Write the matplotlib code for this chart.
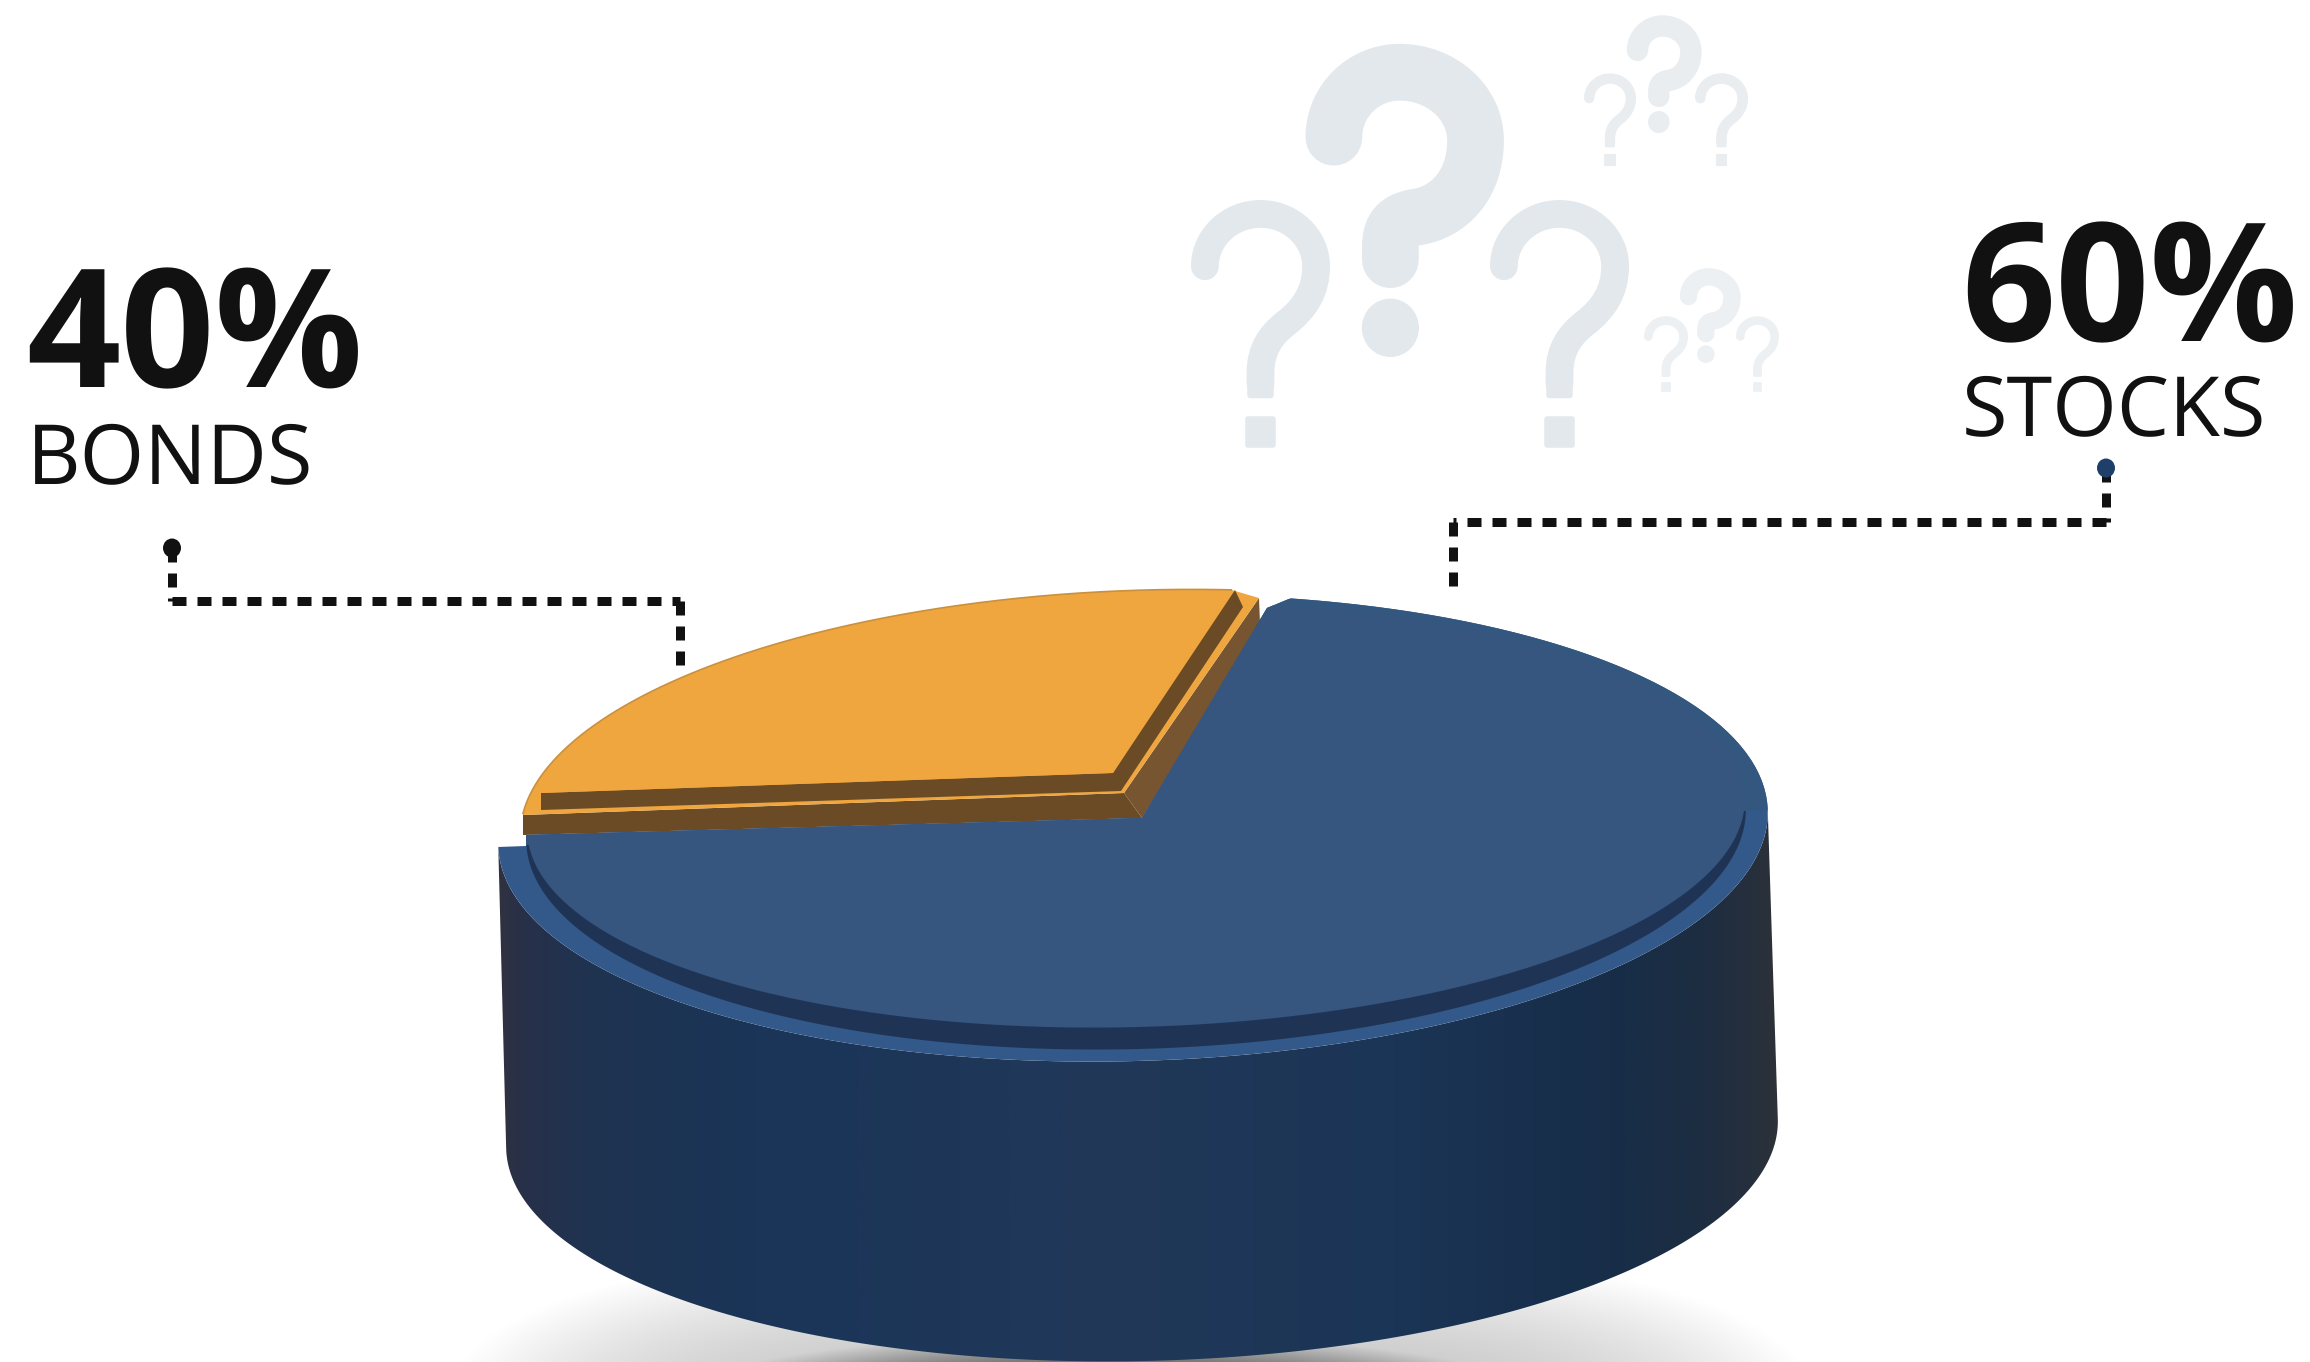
# Stocks / bonds allocation drawn as a tilted 3D puck with callouts.
# The slice is an illustration and is not drawn to angular scale with the shares.

import numpy as np
import matplotlib
matplotlib.use('Agg')
import matplotlib.pyplot as plt
from matplotlib.colors import LinearSegmentedColormap
from matplotlib.path import Path
from matplotlib.patches import PathPatch, Polygon, Rectangle, Ellipse

plt.rcParams['text.hinting'] = 'no_hinting'
plt.rcParams['text.hinting_factor'] = 1

shares = [40, 60]
names = ['BONDS', 'STOCKS']

W, H = 2310, 1362
TILT = -1.6

ORANGE = '#efa63f'
BROWN = '#6b4b25'
BROWN_LIGHT = '#765530'
TOP_BLUE = '#36557f'
LIP_BLUE = '#32598a'
GROOVE = '#1f3454'
INK = '#111111'


def ell(cx, cy, a, b, t_from, t_to, rot=TILT, n=200):
    # points on a rotated ellipse, y pointing down
    t = np.radians(np.linspace(t_from, t_to, n))
    r = np.radians(rot)
    u = a * np.cos(t)
    v = -b * np.sin(t)
    return np.column_stack([cx + u * np.cos(r) - v * np.sin(r),
                            cy + u * np.sin(r) + v * np.cos(r)])


def poly(ax, pts, color, z, clip=None):
    p = Polygon(pts, closed=True, facecolor=color, edgecolor='none', zorder=z)
    ax.add_patch(p)
    if clip is not None:
        p.set_clip_path(clip)
    return p


def question(ax, x0, y0, w, h, color, heavy=False):
    # question mark built from a stroked hook and a separate dot
    sx = lambda u: x0 + u * w
    sy = lambda v: y0 + v * h
    if heavy:
        knots = [(.14, .30), (.14, .186), (.288, .093), (.47, .093), (.68, .093), (.852, .19), (.852, .31),
                 (.852, .45), (.72, .54), (.55, .555), (.46, .565), (.424, .59), (.424, .65), (.424, .69)]
        stroke = 0.285 * w
    else:
        knots = [(.1, .27), (.1, .155), (.28, .06), (.5, .06), (.72, .06), (.9, .155), (.9, .27),
                 (.9, .37), (.82, .44), (.68, .50), (.58, .545), (.5, .60), (.5, .70), (.5, .74)]
        stroke = 0.2 * w
    codes = [Path.MOVETO] + [Path.CURVE4] * 12 + [Path.LINETO]
    verts = [(sx(u), sy(v)) for u, v in knots]
    ax.add_patch(PathPatch(Path(verts, codes), facecolor='none', edgecolor=color,
                           lw=stroke * 0.72, capstyle='round', joinstyle='round', zorder=2))
    if heavy:
        ax.add_patch(Ellipse((sx(.424), sy(.907)), .287 * w, .186 * h, facecolor=color, edgecolor='none', zorder=2))
    else:
        pad = 0.02 * w
        # squared-off stem end and block dot
        stem = Rectangle((sx(.405) + pad, sy(.72)), .19 * w - 2 * pad, .08 * h - pad,
                         facecolor=color, edgecolor=color, lw=2 * pad * 0.72, joinstyle='round', zorder=2)
        stem.set_snap(False)
        ax.add_patch(stem)
        ax.add_patch(Rectangle((sx(.39) + pad, sy(.873) + pad), .22 * w - 2 * pad, .127 * h - 2 * pad,
                               facecolor=color, edgecolor=color, lw=2 * pad * 0.72, joinstyle='round', zorder=2))


def connector(ax, legs, dot, dot_color):
    for (x1, y1), (x2, y2) in legs:
        ax.plot([x1, x2], [y1, y2], color=INK, lw=9 * 0.72, dashes=(14 / 9, 11 / 9),
                dash_capstyle='butt', zorder=3)
    ax.add_patch(Ellipse(dot, 18, 19, facecolor=dot_color, edgecolor='none', zorder=4))


fig = plt.figure(figsize=(W / 100, H / 100), dpi=100, facecolor='white')
ax = fig.add_axes([0, 0, 1, 1])
ax.axis('off')

# soft floor shadow
Y, X = np.mgrid[1150:H, 400:1900]
wide = np.clip(1 - np.abs((X - 1130) / 690) ** 3.5 - ((Y - 1405) / 155) ** 2, 0, 1)
tight = np.clip(1 - ((X - 1108) / 420) ** 2 - ((Y - 1395) / 62) ** 2, 0, 1)
alpha = np.clip(0.23 * wide ** 1.1 + 0.5 * tight ** 1.1, 0, 1)
shadow = np.zeros(X.shape + (4,))
shadow[..., 3] = alpha
ax.imshow(shadow, extent=(400, 1900, H, 1150), aspect='auto', zorder=1, interpolation='bilinear')

# side wall with a horizontal shading band
lip_front = ell(1133, 828, 635, 233, 180, 360)
base_front = ell(1142, 1134, 636, 227, 360, 180, rot=-1.3)
wall = poly(ax, np.vstack([lip_front, base_front]), 'none', 5)
wall_map = LinearSegmentedColormap.from_list('wall', [
    (0.00, '#2f3240'), (0.02, '#27304a'), (0.07, '#1f3350'), (0.20, '#1a3558'), (0.48, '#213858'),
    (0.70, '#1b3556'), (0.87, '#172d48'), (0.94, '#1d2d42'), (0.98, '#262f3d'), (1.00, '#2e3238')])
grad = np.linspace(0, 1, 512).reshape(1, -1)
img = ax.imshow(grad, extent=(498, 1780, H, 780), aspect='auto', cmap=wall_map, zorder=5)
img.set_clip_path(wall)

# orange slice, two stacked layers
arc = ell(1150, 820, 630, 230, 174, 82)
poly(ax, [(523, 815), (523, 835), (1142, 818), (1124, 793)], BROWN, 6)
poly(ax, [(1124, 793), (1142, 818), (1260, 623), (1259, 598)], BROWN_LIGHT, 6)
poly(ax, np.vstack([arc, [(1259, 598), (1124, 793), (523, 815)]]), ORANGE, 7)
poly(ax, [(541, 793), (541, 810), (1121, 791), (1243, 607), (1235, 590), (1113, 773)], BROWN, 8)
poly(ax, np.vstack([arc, [(1113, 773), (541, 793), (523, 815)]]), ORANGE, 9)
ax.plot(arc[:, 0], arc[:, 1], color='#c9913f', lw=1.2, zorder=9)

# blue top: everything outside the slice notch
notch = Polygon([(1142, 818), (1267, 608), (1296, 596), (1296, 0), (W, 0), (W, H), (0, H), (0, 850),
                 (498, 847), (526, 846), (526, 835)], closed=True, transform=ax.transData)
poly(ax, ell(1133, 828, 635, 233, 0, 360), LIP_BLUE, 10, clip=notch)
poly(ax, ell(1136, 825, 610, 224, 180, 360), GROOVE, 11, clip=notch)
poly(ax, ell(1133, 828, 635, 233, 0, 180), '#345780', 11.5, clip=notch)
poly(ax, ell(1136, 815, 609, 212, 0, 360), TOP_BLUE, 12, clip=notch)

# callouts
connector(ax, [((172, 548), (172, 601)), ((172, 601), (680, 601)), ((680, 601), (680, 666))], (172, 548), INK)
connector(ax, [((2106, 468), (2106, 522)), ((2106, 522), (1453, 522)), ((1453, 522), (1453, 590))],
          (2106, 468), '#1f3f6b')

# question marks, big group then the two small clusters
big_grey = '#e3e8ec'
question(ax, 1306, 43, 199, 314, big_grey, heavy=True)
question(ax, 1191, 199, 139, 249, big_grey)
question(ax, 1490, 199, 139, 249, big_grey)
top_grey = '#e9edf0'
question(ax, 1627, 15, 75, 118, top_grey, heavy=True)
question(ax, 1584, 73, 52, 93, top_grey)
question(ax, 1695, 73, 53, 93, top_grey)
low_grey = '#ecf0f2'
question(ax, 1680, 268, 61, 95, low_grey, heavy=True)
question(ax, 1644, 316, 44, 76, low_grey)
question(ax, 1736, 316, 43, 76, low_grey)

big_font = dict(family='Open Sans', weight=700, size=119, color=INK, zorder=6)
small_font = dict(family='Open Sans', weight=400, size=59.5, color=INK, zorder=6)
ax.text(26, 387, f'{shares[0]}%', va='baseline', ha='left', **big_font)
ax.text(27, 484, names[0], va='baseline', ha='left', **small_font)
ax.text(1961, 341, f'{shares[1]}%', va='baseline', ha='left', **big_font)
ax.text(1962, 436, names[1], va='baseline', ha='left', **small_font)

ax.set_xlim(0, W)
ax.set_ylim(H, 0)
fig.savefig('out.png', dpi=100, facecolor='white')
